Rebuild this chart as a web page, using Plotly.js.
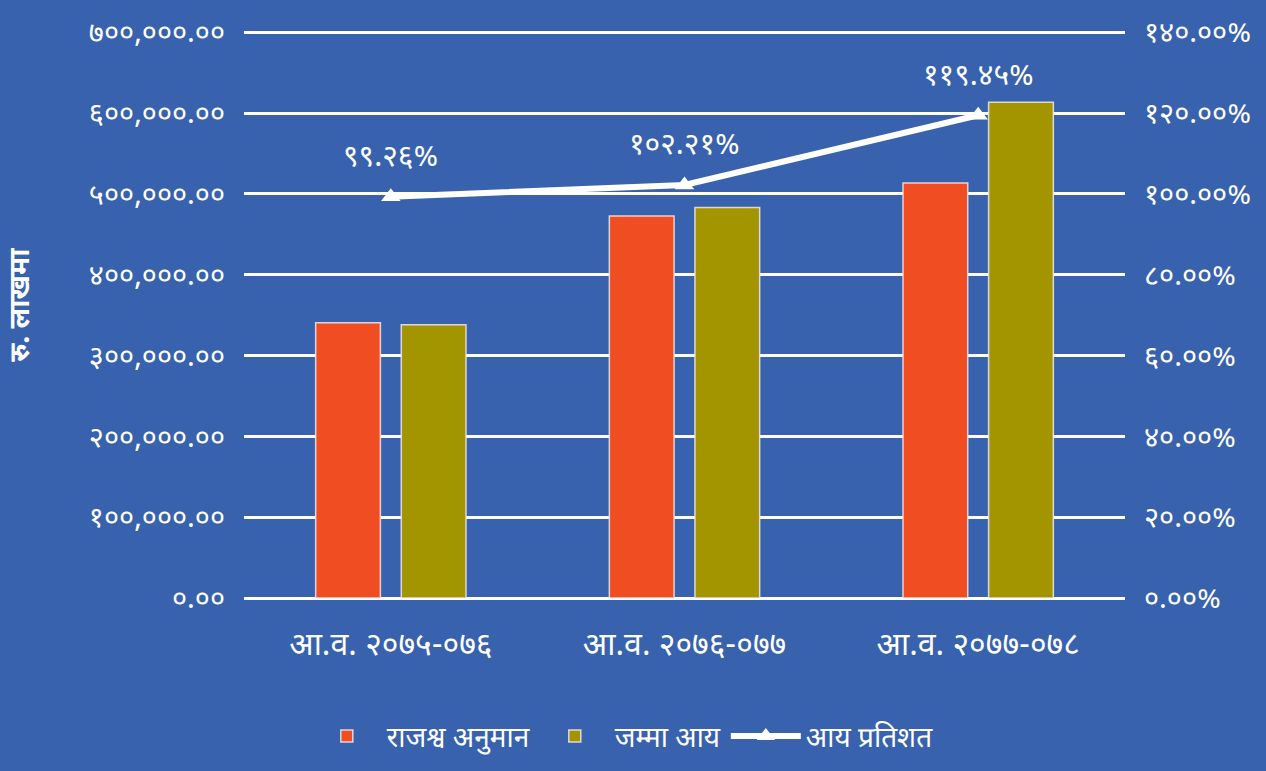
<!DOCTYPE html>
<html>
<head>
<meta charset="utf-8">
<script src="https://cdn.plot.ly/plotly-3.0.1.min.js"></script>
<style>html,body{margin:0;padding:0;background:#3862AD;}#chart{width:1266px;height:771px;}</style>
</head>
<body>
<div id="chart"></div>
<script>
const categories = ["आ.व. २०७५-०७६", "आ.व. २०७६-०७७", "आ.व. २०७७-०७८"];
const estimateValues = [340500, 472500, 513500];
const actualValues = [338000, 483000, 613400];
const percentValues = [0.9926, 1.0221, 1.1945];
const percentLabels = ["९९.२६%", "१०२.२१%", "११९.४५%"];
const seriesNames = ["राजश्व अनुमान", "जम्मा आय", "आय प्रतिशत"];
const leftTickVals = [0, 100000, 200000, 300000, 400000, 500000, 600000, 700000];
const leftTickText = ["०.००", "१००,०००.००", "२००,०००.००", "३००,०००.००", "४००,०००.००", "५००,०००.००", "६००,०००.००", "७००,०००.००"];
const rightTickVals = [0, 0.2, 0.4, 0.6, 0.8, 1.0, 1.2, 1.4];
const rightTickText = ["०.००%", "२०.००%", "४०.००%", "६०.००%", "८०.००%", "१००.००%", "१२०.००%", "१४०.००%"];
const yTitle = "रु. लाखमा";

const FONT = '"Noto Sans Devanagari", "Noto Sans", "DejaVu Sans", sans-serif';
const WHITE = '#FFFFFF';

const traces = [
  {
    type: 'bar', x: categories, y: estimateValues, name: seriesNames[0],
    marker: {color: '#F04E22', line: {color: 'rgba(235,225,230,0.9)', width: 1.5}},
    hoverinfo: 'none'
  },
  {
    type: 'bar', x: categories, y: actualValues, name: seriesNames[1],
    marker: {color: '#A39500', line: {color: 'rgba(235,225,230,0.9)', width: 1.5}},
    hoverinfo: 'none'
  },
  {
    type: 'scatter', mode: 'lines+markers', x: categories, y: percentValues, yaxis: 'y2',
    name: seriesNames[2],
    line: {color: WHITE, width: 6},
    marker: {symbol: 'triangle-up', size: 17, color: WHITE},
    hoverinfo: 'none'
  }
];

const annotations = categories.map((c, i) => ({
  x: c, y: percentValues[i], xref: 'x', yref: 'y2',
  text: percentLabels[i], showarrow: false, yshift: 38,
  font: {family: FONT, size: 30, color: WHITE}
}));
annotations.push({
  x: -0.252, y: 0.517, xref: 'paper', yref: 'paper', textangle: -90,
  text: '<b>' + yTitle + '</b>', showarrow: false,
  xanchor: 'center', yanchor: 'middle',
  font: {family: FONT, size: 28, color: WHITE}
});

const layout = {
  width: 1266, height: 771,
  paper_bgcolor: '#3862AD', plot_bgcolor: '#3862AD',
  margin: {l: 244, r: 141, t: 31, b: 173},
  font: {family: FONT, color: WHITE, size: 20},
  barmode: 'group', bargap: 0.417, bargroupgap: 0.244,
  showlegend: true,
  legend: {orientation: 'h', x: 0.43, xanchor: 'center', xref: 'paper',
           y: 0.045, yref: 'container', yanchor: 'middle',
           font: {family: FONT, size: 28, color: WHITE}, bgcolor: 'rgba(0,0,0,0)', itemwidth: 70},
  xaxis: {
    type: 'category', showgrid: false, zeroline: false, showline: false,
    tickfont: {family: FONT, size: 32, color: WHITE}, ticks: '', ticklabelstandoff: 24
  },
  yaxis: {
    range: [0, 701500], tickvals: leftTickVals, ticktext: leftTickText,
    showgrid: true, gridcolor: WHITE, gridwidth: 3,
    zeroline: true, zerolinecolor: WHITE, zerolinewidth: 3, showline: false,
    tickfont: {family: FONT, size: 29, color: WHITE}, ticks: '', ticklabelstandoff: 18
  },
  yaxis2: {
    range: [0, 1.403], tickvals: rightTickVals, ticktext: rightTickText,
    overlaying: 'y', side: 'right', showgrid: false, zeroline: false, showline: false,
    tickfont: {family: FONT, size: 29, color: WHITE}, ticks: '', ticklabelstandoff: 18
  },
  annotations: annotations
};

Plotly.newPlot('chart', traces, layout, {displayModeBar: false, staticPlot: true});
</script>
</body>
</html>
